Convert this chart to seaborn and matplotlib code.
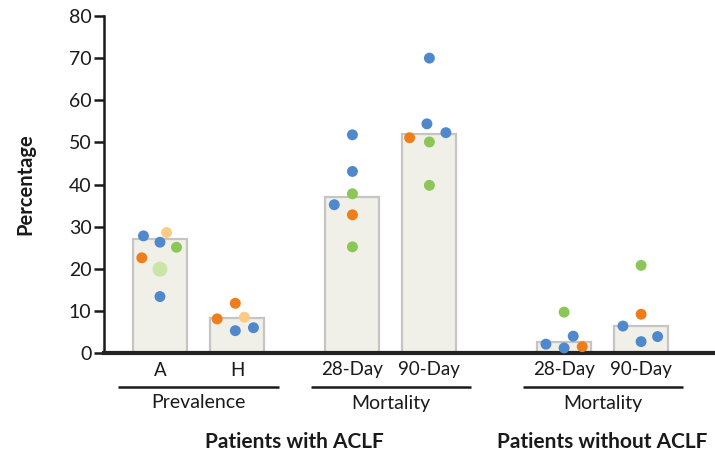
import numpy as np
import pandas as pd
import matplotlib
matplotlib.use("Agg")
import matplotlib.pyplot as plt
import matplotlib.transforms as mtransforms
import seaborn as sns

# ---- data ----
categories = ["A", "H", "28-Day", "90-Day", "28-Day", "90-Day"]
bar_values = [27.0, 8.2, 37.0, 52.0, 2.6, 6.5]
subgroups = ["Prevalence", "Mortality", "Mortality"]
groups = ["Patients with ACLF", "Patients without ACLF"]

# individual study points: category index, value, colour class
point_cat = [0, 0, 0, 0, 0, 0, 0,
             1, 1, 1, 1, 1,
             2, 2, 2, 2, 2, 2,
             3, 3, 3, 3, 3, 3,
             4, 4, 4, 4, 4,
             5, 5, 5, 5, 5]
point_value = [27.8, 28.6, 26.3, 25.1, 22.6, 19.9, 13.4,
               11.8, 8.1, 8.5, 5.3, 6.0,
               51.8, 43.1, 37.8, 35.2, 32.8, 25.2,
               70.0, 54.4, 52.3, 51.1, 50.1, 39.8,
               9.7, 4.0, 2.1, 1.2, 1.5,
               20.8, 9.2, 6.4, 2.7, 3.9]
point_kind = ["blue", "lorange", "blue", "green", "orange", "lgreen", "blue",
              "orange", "orange", "lorange", "blue", "blue",
              "blue", "blue", "green", "blue", "orange", "green",
              "blue", "blue", "blue", "orange", "green", "green",
              "green", "blue", "blue", "blue", "orange",
              "green", "orange", "blue", "blue", "blue"]

# ---- layout (positions / styles) ----
cat_pos = [0.0, 1.0, 2.5, 3.5, 5.25, 6.25]
point_slot = [-1.0, 0.4, 0.0, 1.0, -1.1, 0.0, 0.0,
              -0.1, -1.2, 0.45, -0.1, 1.0,
              0.0, 0.0, 0.0, -1.1, 0.0, 0.0,
              0.0, -0.15, 1.0, -1.2, 0.0, 0.0,
              0.0, 0.55, -1.1, 0.0, 1.1,
              0.0, 0.0, -1.1, 0.0, 1.0]
slot_w = 16.5 / 77.0
palette = {"blue": "#4f89cb", "orange": "#ee7d1a", "green": "#8cc657",
           "lorange": "#fdcb84", "lgreen": "#c9e6a6"}
ink = "#1a1a1a"

sns.set_style("ticks")
plt.rcParams["font.family"] = ["Lato", "DejaVu Sans"]

fig = plt.figure(figsize=(7.15, 4.54), dpi=100)
ax = fig.add_axes([104 / 715, 101 / 454, 611 / 715, 337 / 454])

bars = pd.DataFrame({"pos": cat_pos, "value": bar_values})
sns.barplot(data=bars, x="pos", y="value", native_scale=True, width=0.7,
            color="#f0efe8", edgecolor="#c5c5c3", linewidth=1.6,
            saturation=1, errorbar=None, ax=ax, zorder=1)

pts = pd.DataFrame({
    "x": [cat_pos[c] + s * slot_w for c, s in zip(point_cat, point_slot)],
    "y": point_value,
    "kind": point_kind,
    "big": ["big" if k == "lgreen" else "small" for k in point_kind],
})
sns.scatterplot(data=pts, x="x", y="y", hue="kind", palette=palette,
                size="big", sizes={"big": 115, "small": 62},
                edgecolor="none", linewidth=0, legend=False, ax=ax, zorder=3,
                clip_on=False)

ax.set_xlim(-0.727, 7.21)
ax.set_ylim(0, 80)
ax.set_yticks(range(0, 81, 10))
ax.set_xticks([])
ax.set_xlabel("")
ax.set_ylabel("Percentage", fontsize=14.5, fontweight="bold", color=ink)
ax.yaxis.set_label_coords((25 - 104) / 611, 0.5)
ax.yaxis.label.set_va("center")
ax.tick_params(axis="y", length=7, width=1.8, colors=ink,
               labelsize=14, pad=2)
for side in ["top", "right"]:
    ax.spines[side].set_visible(False)
ax.spines["left"].set_linewidth(1.8)
ax.spines["left"].set_color(ink)
ax.spines["bottom"].set_linewidth(3)
ax.spines["bottom"].set_color("#222222")

trans = mtransforms.blended_transform_factory(ax.transData, ax.transAxes)
ph = 1 / 337.0
for p, lab in zip(cat_pos, categories):
    ax.text(p, -17 * ph, lab, transform=trans, ha="center", va="center",
            fontsize=13.5, color=ink)

sub_centers = [(cat_pos[0] + cat_pos[1]) / 2, (cat_pos[2] + cat_pos[3]) / 2,
               (cat_pos[4] + cat_pos[5]) / 2]
for c, lab in zip(sub_centers, subgroups):
    ax.plot([c - 1.04, c + 1.04], [-34 * ph, -34 * ph], transform=trans,
            color=ink, lw=1.8, clip_on=False, solid_capstyle="butt")
    ax.text(c, -50 * ph, lab, transform=trans, ha="center", va="center",
            fontsize=14, color=ink)

grp_centers = [(cat_pos[0] + cat_pos[3]) / 2, (cat_pos[4] + cat_pos[5]) / 2]
for c, lab in zip(grp_centers, groups):
    ax.text(c, -89 * ph, lab, transform=trans, ha="center", va="center",
            fontsize=15, fontweight="bold", color=ink)

fig.savefig("out.png", dpi=100)
